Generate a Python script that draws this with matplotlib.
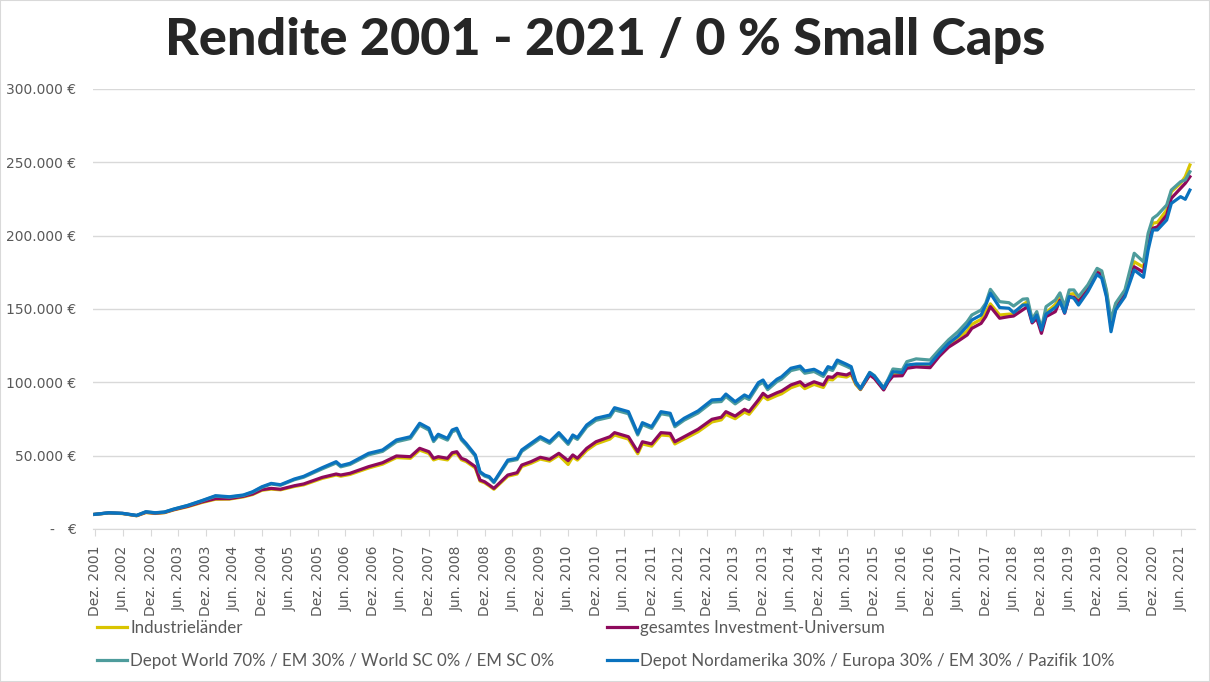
import matplotlib
matplotlib.use("Agg")
import matplotlib.pyplot as plt
from matplotlib.patches import Rectangle
from matplotlib.ticker import FuncFormatter, FixedLocator

# month index: 0 = Dez. 2001
months = [0, 3, 6, 9, 11, 13, 15, 17, 20, 23, 26, 29, 32, 34, 36, 38, 40, 43, 45, 49,
          52, 53, 55, 59, 62, 65, 68, 70, 72, 73, 74, 76, 77, 78, 79, 80, 82, 83, 84, 85,
          86, 89, 91, 92, 94, 96, 98, 100, 102, 103, 104, 106, 108, 111, 112, 115, 117, 118, 120, 122,
          124, 125, 127, 130, 133, 135, 136, 138, 140, 141, 143, 144, 145, 147, 148, 150, 152, 153, 155, 157,
          158, 159, 160, 162, 163, 164, 165, 167, 168, 170, 171, 172, 174, 175, 177, 180, 182, 184, 186, 188,
          189, 191, 192, 193, 195, 197, 198, 200, 201, 202, 203, 204, 205, 207, 208, 209, 210, 211, 212, 214,
          216, 217, 218, 219, 220, 222, 224, 226, 227, 228, 229, 231, 232, 234, 235, 236]

nordamerika = [10000, 11100, 10700, 9300, 11800, 11100, 11600, 13600, 16100, 19300, 22700, 22000, 23200, 25400, 28800, 31100, 30200, 34100, 35900, 41800,
               45900, 43200, 44800, 51600, 53900, 60700, 62900, 72100, 68700, 60700, 64600, 61800, 67500, 68700, 61800, 58400, 50500, 39100, 36800, 35700,
               32200, 47000, 48200, 53900, 58400, 62900, 59500, 65700, 58800, 64100, 62300, 70900, 75500, 77700, 82700, 80000, 65200, 72500, 69800, 80000,
               78900, 70900, 75500, 80500, 88000, 88400, 92000, 86800, 91400, 89800, 99800, 101600, 96500, 102100, 103800, 109600, 111100, 107700, 108900, 105500,
               110700, 109600, 115200, 112300, 110700, 100400, 95900, 106600, 104300, 95900, 101600, 107200, 106600, 111800, 112500, 112500, 119800, 126500, 131500, 138400,
               142500, 145900, 152700, 160700, 151000, 150500, 147500, 152700, 152700, 141300, 145900, 135700, 146500, 151100, 155000, 147500, 158400, 157300, 152700, 161800,
               173500, 171000, 158400, 134500, 149300, 158400, 176600, 171600, 190200, 203900, 203900, 210700, 222000, 226600, 224800, 231100]

world = [10000, 11000, 10600, 9200, 11700, 11000, 11500, 13500, 16000, 19100, 22400, 21700, 22900, 25100, 28400, 30700, 29800, 33600, 35300, 41000,
         45000, 42400, 44000, 50600, 52900, 59500, 61700, 70800, 67400, 59600, 63400, 60600, 66300, 67500, 60700, 57300, 49600, 38400, 36100, 35000,
         31600, 46100, 47300, 52900, 57300, 61700, 58400, 64500, 57700, 62900, 61100, 69600, 74100, 76300, 81200, 78600, 64100, 71200, 68600, 78600,
         77500, 69700, 74200, 79100, 86500, 86900, 90400, 85300, 89800, 88300, 98200, 100000, 95000, 100500, 102200, 108000, 109500, 106200, 107400, 104000,
         109200, 108100, 113700, 110900, 109400, 99500, 95500, 106800, 104600, 96300, 102300, 109100, 108400, 114100, 116000, 115200, 122300, 129000, 134500, 141300,
         145900, 149300, 153900, 163400, 155000, 154300, 152000, 156700, 157000, 143000, 148200, 136800, 151600, 156100, 161000, 151600, 163000, 163000, 158400, 166400,
         177700, 176000, 163000, 142500, 153900, 163000, 188000, 182200, 201600, 211800, 214100, 220900, 231100, 236800, 238000, 243600]

gesamt = [10000, 11000, 10600, 9100, 11400, 10800, 11300, 13200, 15500, 18400, 20700, 20700, 22300, 23900, 26800, 27700, 27100, 29500, 30700, 35200,
          37500, 36800, 38000, 42500, 45200, 49800, 49300, 55000, 52700, 48200, 49300, 48200, 52000, 52700, 48200, 47000, 42500, 33400, 32200, 30000,
          27700, 36800, 38400, 43600, 45900, 48900, 47500, 51600, 46600, 50500, 48200, 55000, 59500, 62900, 65700, 62900, 52700, 59500, 58000, 65700,
          65200, 59500, 62900, 68000, 74800, 76200, 80000, 77000, 81600, 80000, 88000, 92500, 90000, 92900, 94100, 98200, 100400, 97500, 100400, 98200,
          103800, 103400, 106100, 105000, 106600, 99300, 95300, 105000, 102700, 94800, 100400, 104300, 104500, 109600, 110500, 110000, 117800, 124000, 128000, 132300,
          136800, 140200, 144800, 151600, 143700, 144800, 145200, 149500, 151600, 140500, 143500, 133400, 144800, 148200, 156000, 147100, 158400, 158000, 155000, 163000,
          175000, 173500, 160000, 138500, 150000, 160000, 178800, 175000, 195900, 205000, 206000, 214100, 225500, 232300, 235700, 240200]

industrie = [10000, 10900, 10500, 9000, 11200, 10600, 11100, 13000, 15200, 18000, 20300, 20400, 21900, 23500, 26400, 27200, 26700, 29000, 30100, 34500,
             36800, 36000, 37200, 41600, 44200, 48700, 48200, 53800, 51500, 47100, 48200, 47100, 50900, 51600, 47200, 46000, 41600, 32700, 31500, 29400,
             27100, 36000, 37500, 42600, 44800, 47700, 46300, 50300, 44000, 49200, 47000, 53600, 58000, 61300, 64100, 61300, 51300, 58000, 56500, 64100,
             63600, 58000, 61300, 66300, 73000, 74400, 78100, 75200, 79700, 78200, 86100, 90500, 88200, 91000, 92200, 96300, 98500, 95700, 98600, 96500,
             102000, 101700, 104500, 103600, 105300, 98500, 95000, 105300, 103000, 95200, 100900, 105500, 105300, 110600, 111700, 111300, 118800, 125300, 130000, 135000,
             139500, 143000, 148000, 153500, 145900, 146500, 146500, 153000, 155000, 142500, 146500, 135000, 147500, 153000, 158500, 149500, 160000, 160500, 157000, 165000,
             176500, 175000, 162000, 140500, 153000, 162000, 182200, 178500, 197500, 208500, 209000, 217500, 230000, 235700, 240200, 248200]

series_names = ["Industrieländer", "gesamtes Investment-Universum",
                "Depot World 70% / EM 30% / World SC 0% / EM SC 0%",
                "Depot Nordamerika 30% / Europa 30% / EM 30% / Pazifik 10%"]
series_colors = ["#D9C400", "#8E0A5C", "#4E9C9C", "#0A72BE"]

tick_months = list(range(0, 237, 6))
tick_labels = [("Dez. %d" % (2001 + m // 12)) if m % 12 == 0 else ("Jun. %d" % (2002 + m // 12))
               for m in tick_months]

y_ticks = [0, 50000, 100000, 150000, 200000, 250000, 300000]
title = "Rendite 2001 - 2021 / 0 % Small Caps"

W, H = 1210, 682
fig = plt.figure(figsize=(W / 100, H / 100), dpi=100)
fig.patch.set_facecolor("white")
fig.patches.append(Rectangle((0, 0), 1, 1, transform=fig.transFigure, fill=False,
                             edgecolor="#d9d9d9", linewidth=1.5, zorder=0))

ax = fig.add_axes([93 / W, 1 - 529 / H, (1195 - 93) / W, (529 - 89) / H])
lines = []
for vals, name, col in zip([industrie, gesamt, world, nordamerika], series_names, series_colors):
    ln, = ax.plot(months, vals, color=col, linewidth=2.3, label=name, solid_joinstyle="round")
    lines.append(ln)

ax.set_xlim(-0.4, 237.1)
ax.set_ylim(0, 300000)
ax.yaxis.set_major_locator(FixedLocator(y_ticks))

def yfmt(v, pos):
    if v == 0:
        return "-   €"
    return ("{:,.0f}".format(v)).replace(",", ".") + " €"

ax.yaxis.set_major_formatter(FuncFormatter(yfmt))
ax.set_xticks(tick_months)
ax.set_xticklabels(tick_labels, rotation=90, fontsize=10, color="#595959")
ax.tick_params(axis="y", length=0, labelsize=10, labelcolor="#595959", pad=12)
ax.tick_params(axis="x", length=5, color="#d9d9d9", pad=7)
ax.grid(axis="y", color="#d9d9d9", linewidth=1)
ax.set_axisbelow(True)
for s in ["top", "right", "left"]:
    ax.spines[s].set_visible(False)
ax.spines["bottom"].set_color("#d9d9d9")

fig.text(0.5, 1 - 40 / H, title, ha="center", va="center", fontsize=37.5,
         fontweight="black", family=["Lato", "DejaVu Sans"], color="#262626")

leg_prop = {"family": ["Lato", "DejaVu Sans"], "size": 12.2}
leg_kw = dict(loc="upper left", frameon=False, handlelength=1.75, handletextpad=0.2,
              labelspacing=1.0, borderpad=0, borderaxespad=0, prop=leg_prop)
leg1 = fig.legend([lines[0], lines[2]], [series_names[0], series_names[2]],
                  bbox_to_anchor=(97 / W, 1 - 620 / H), **leg_kw)
leg2 = fig.legend([lines[1], lines[3]], [series_names[1], series_names[3]],
                  bbox_to_anchor=(607 / W, 1 - 620 / H), **leg_kw)
for lg in (leg1, leg2):
    for t in lg.get_texts():
        t.set_color("#595959")

fig.savefig("out.png", dpi=100)
